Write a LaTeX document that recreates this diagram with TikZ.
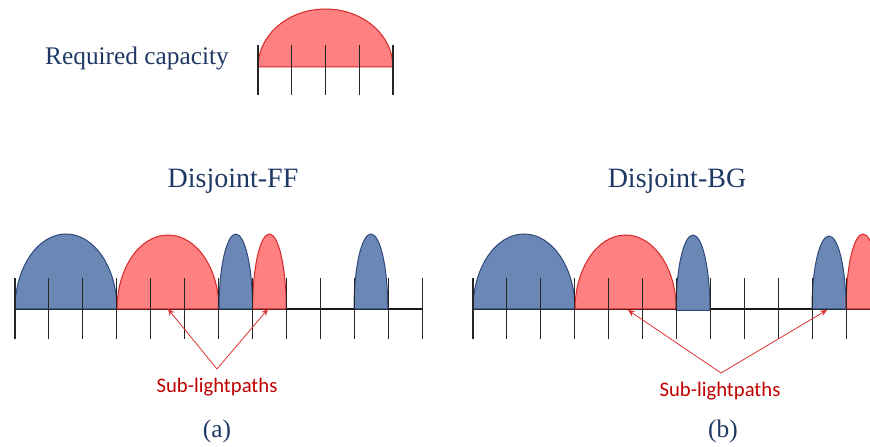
\documentclass[tikz,border=0pt]{standalone}
\usepackage{fontspec}
\IfFontExistsTF{LiberationSerif-Regular.ttf}
  {\newfontfamily\timesfont{LiberationSerif-Regular.ttf}}
  {\newcommand\timesfont{\rmfamily}}
\newfontfamily\carlitofont{Carlito}
\usetikzlibrary{arrows.meta}
\definecolor{capblue}{RGB}{31,56,100}
\definecolor{fillblue}{RGB}{106,135,182}
\definecolor{edgeblue}{RGB}{47,74,122}
\definecolor{fillred}{RGB}{255,128,128}
\definecolor{edgered}{RGB}{215,40,40}
\definecolor{textred}{RGB}{192,0,0}
\definecolor{arrowred}{RGB}{220,50,50}
\tikzset{
  tickline/.style={draw=black!85, line width=0.8pt},
  baseline/.style={draw=black!90, line width=0.8pt},
  bluearc/.style={fill=fillblue, draw=edgeblue, line width=0.75pt},
  redarc/.style={fill=fillred, draw=edgered, line width=0.75pt},
  subarrow/.style={draw=arrowred, line width=0.6pt, -{Stealth[length=5pt,width=4.5pt]}},
  titletext/.style={text=capblue, font=\timesfont\fontsize{21}{24}\selectfont, anchor=base, inner sep=0pt},
  captext/.style={text=capblue, font=\timesfont\fontsize{19}{22}\selectfont, anchor=base, inner sep=0pt},
  sublabel/.style={text=textred, font=\carlitofont\fontsize{15.5}{18}\selectfont, anchor=base, inner sep=0pt}
}
\begin{document}
\begin{tikzpicture}[x=0.75pt, y=0.75pt]
\useasboundingbox (0,0) rectangle (870,446);
\clip (0,0) rectangle (870,446);

% ---------- required capacity ----------
\node[captext] (req) at (137,381) {Required capacity};
\draw[redarc] (258,379) arc[start angle=180, end angle=0, x radius=67.5, y radius=58] -- cycle;
\foreach \i in {0,...,4} {
  \draw[tickline] ({258+\i*33.75},351) -- ({258+\i*33.75},401);
}

% ---------- (a) Disjoint-FF ----------
\node[titletext] (titleA) at (233,258) {Disjoint-FF};
\draw[baseline] (15,137) -- (422,137);
\draw[bluearc] (15,137) arc[start angle=180, end angle=0, x radius=51, y radius=75] -- cycle;
\draw[redarc] (117,137) arc[start angle=180, end angle=0, x radius=51, y radius=74] -- cycle;
\draw[bluearc] (219,137) arc[start angle=180, end angle=0, x radius=16.8, y radius=75] -- cycle;
\draw[redarc] (252.6,137) arc[start angle=180, end angle=0, x radius=16.8, y radius=75] -- cycle;
\draw[bluearc] (354,137) arc[start angle=180, end angle=0, x radius=16.9, y radius=75] -- cycle;
\foreach \i in {0,...,12} {
  \draw[tickline] ({15+\i*33.92},107) -- ({15+\i*33.92},168);
}
\coordinate (apexA) at (217,77);
\coordinate (tipA1) at (168,137);
\coordinate (tipA2) at (268,137);
\draw[subarrow] (apexA) -- (tipA1);
\draw[subarrow] (apexA) -- (tipA2);
\node[sublabel] (subA) at (217,54) {Sub-lightpaths};
\node[captext] (labA) at (217,9) {(a)};

% ---------- (b) Disjoint-BG ----------
\node[titletext] (titleB) at (677,258) {Disjoint-BG};
\draw[baseline] (473,137) -- (880,137);
\draw[bluearc] (473,137) arc[start angle=180, end angle=0, x radius=51, y radius=75] -- cycle;
\draw[redarc] (575,137) arc[start angle=180, end angle=0, x radius=50.6, y radius=74] -- cycle;
\draw[bluearc] (676,135.5) arc[start angle=180, end angle=0, x radius=17, y radius=75.5] -- cycle;
\draw[bluearc] (812,137) arc[start angle=180, end angle=0, x radius=17, y radius=73] -- cycle;
\draw[redarc] (846,137) arc[start angle=180, end angle=0, x radius=17, y radius=75] -- cycle;
\foreach \i in {0,...,12} {
  \draw[tickline] ({473+\i*33.92},107) -- ({473+\i*33.92},168);
}
\coordinate (apexB) at (721,73);
\coordinate (tipB1) at (628,136);
\coordinate (tipB2) at (827,136);
\draw[subarrow] (apexB) -- (tipB1);
\draw[subarrow] (apexB) -- (tipB2);
\node[sublabel] (subB) at (720,50) {Sub-lightpaths};
\node[captext] (labB) at (723,9) {(b)};
\end{tikzpicture}
\end{document}
